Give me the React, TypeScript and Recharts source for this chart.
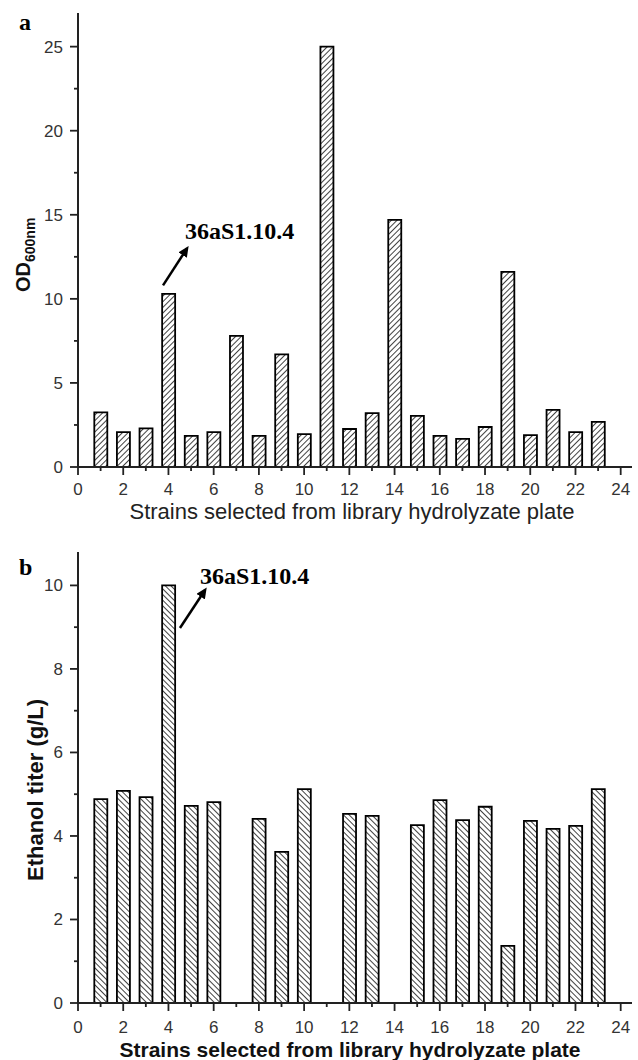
import React from 'react';
import { BarChart, Bar, XAxis, YAxis, ReferenceLine } from 'recharts';

// strain numbers on the x axis
const strains = [1, 2, 3, 4, 5, 6, 7, 8, 9, 10, 11, 12, 13, 14, 15, 16, 17, 18, 19, 20, 21, 22, 23];
// panel a: OD600nm
const odValues = [3.25, 2.08, 2.3, 10.3, 1.85, 2.08, 7.8, 1.85, 6.7, 1.96, 25.0, 2.26, 3.2, 14.7, 3.04, 1.85, 1.67, 2.38, 11.6, 1.9, 3.4, 2.08, 2.68];
// panel b: ethanol titer (g/L), no bar for 7, 11, 14
const ethanolValues = [4.88, 5.08, 4.93, 10.0, 4.72, 4.81, null, 4.41, 3.62, 5.12, null, 4.53, 4.48, null, 4.26, 4.86, 4.38, 4.7, 1.37, 4.36, 4.17, 4.24, 5.12];

const xTicks = [0, 1, 2, 3, 4, 5, 6, 7, 8, 9, 10, 11, 12, 13, 14, 15, 16, 17, 18, 19, 20, 21, 22, 23, 24];
const odTicks = [0, 2.5, 5, 7.5, 10, 12.5, 15, 17.5, 20, 22.5, 25];
const ethanolTicks = [0, 1, 2, 3, 4, 5, 6, 7, 8, 9, 10];

const xTitle = 'Strains selected from library hydrolyzate plate';
const strainName = '36aS1.10.4';

const odData = strains.map((s, i) => ({ strain: s, value: odValues[i] }));
const ethanolData = strains.map((s, i) => ({ strain: s, value: ethanolValues[i] }));

const sans = '"Liberation Sans", Arial, sans-serif';
const serif = '"Liberation Serif", "Times New Roman", serif';
const axisColor = '#222';

const makeXTick = (labelDy: number) => (props: any) => {
  const { x, y, payload } = props;
  const major = payload.value % 2 === 0;
  return (
    <g>
      <line x1={x} x2={x} y1={y} y2={y + (major ? 8 : 4)} stroke={axisColor} strokeWidth={1.8} />
      {major && (
        <text x={x} y={y + labelDy} textAnchor="middle" fontFamily={sans} fontSize={17} fill="#333">
          {payload.value}
        </text>
      )}
    </g>
  );
};

const makeYTick = (isMajor: (v: number) => boolean) => (props: any) => {
  const { x, y, payload } = props;
  const major = isMajor(payload.value);
  return (
    <g>
      <line x1={x - (major ? 8 : 4)} x2={x} y1={y} y2={y} stroke={axisColor} strokeWidth={1.8} />
      {major && (
        <text x={x - 15} y={y} dy="0.35em" textAnchor="end" fontFamily={sans} fontSize={17} fill="#333">
          {payload.value}
        </text>
      )}
    </g>
  );
};

const arrowShape = (props: any) => (
  <line x1={props.x1} y1={props.y1} x2={props.x2} y2={props.y2} stroke="#000" strokeWidth={2.5} markerEnd="url(#arrowHead)" />
);

export default function App() {
  return (
    <div style={{ position: 'absolute', left: 0, top: 0, width: 638, height: 1060, background: '#fff' }}>
      <div style={{ position: 'absolute', left: 0, top: 0 }}>
        <BarChart width={638} height={507} data={odData} margin={{ top: 13, right: 6, left: 0, bottom: 0 }}>
          <XAxis
            type="number"
            dataKey="strain"
            domain={[0, 24.5]}
            ticks={xTicks}
            interval={0}
            height={40}
            tickSize={0}
            tickMargin={0}
            tickLine={false}
            axisLine={{ stroke: axisColor, strokeWidth: 2 }}
            tick={makeXTick(28)}
          />
          <YAxis
            type="number"
            domain={[0, 27]}
            ticks={odTicks}
            interval={0}
            width={78}
            tickSize={0}
            tickMargin={0}
            tickLine={false}
            axisLine={{ stroke: axisColor, strokeWidth: 2 }}
            tick={makeYTick((v) => v % 5 === 0)}
          />
          <Bar dataKey="value" barSize={13} fill="url(#hatchA)" stroke="#000" strokeWidth={1.8} isAnimationActive={false} />
          <ReferenceLine segment={[{ x: 3.76, y: 10.8 }, { x: 4.82, y: 13.0 }]} shape={arrowShape} />
        </BarChart>
      </div>

      <div style={{ position: 'absolute', left: 0, top: 540 }}>
        <BarChart width={638} height={503} data={ethanolData} margin={{ top: 12, right: 6, left: 0, bottom: 0 }}>
          <XAxis
            type="number"
            dataKey="strain"
            domain={[0, 24.5]}
            ticks={xTicks}
            interval={0}
            height={40}
            tickSize={0}
            tickMargin={0}
            tickLine={false}
            axisLine={{ stroke: axisColor, strokeWidth: 2 }}
            tick={makeXTick(30)}
          />
          <YAxis
            type="number"
            domain={[0, 10.8]}
            ticks={ethanolTicks}
            interval={0}
            width={78}
            tickSize={0}
            tickMargin={0}
            tickLine={false}
            axisLine={{ stroke: axisColor, strokeWidth: 2 }}
            tick={makeYTick((v) => v % 2 === 0)}
          />
          <Bar dataKey="value" barSize={13} fill="url(#hatchB)" stroke="#000" strokeWidth={1.8} isAnimationActive={false} />
          <ReferenceLine segment={[{ x: 4.51, y: 8.98 }, { x: 5.62, y: 9.89 }]} shape={arrowShape} />
        </BarChart>
      </div>

      <svg width={638} height={1060} style={{ position: 'absolute', left: 0, top: 0, pointerEvents: 'none' }}>
        <defs>
          <pattern id="hatchA" patternUnits="userSpaceOnUse" width={4} height={4} patternTransform="rotate(45)">
            <rect width={4} height={4} fill="#fff" />
            <line x1={0} y1={0} x2={0} y2={4} stroke="#111" strokeWidth={1.6} />
          </pattern>
          <pattern id="hatchB" patternUnits="userSpaceOnUse" width={4} height={4} patternTransform="rotate(-45)">
            <rect width={4} height={4} fill="#fff" />
            <line x1={0} y1={0} x2={0} y2={4} stroke="#111" strokeWidth={1.6} />
          </pattern>
          <marker id="arrowHead" markerWidth={11} markerHeight={10} refX={8} refY={5} orient="auto" markerUnits="userSpaceOnUse">
            <path d="M0,0 L11,5 L0,10 z" fill="#000" />
          </marker>
        </defs>

        <text x={19} y={30} fontFamily={serif} fontWeight="bold" fontSize={24} fill="#000">a</text>
        <text x={19} y={575} fontFamily={serif} fontWeight="bold" fontSize={24} fill="#000">b</text>

        <text x={185} y={239} fontFamily={serif} fontWeight="bold" fontSize={24} fill="#000">{strainName}</text>
        <text x={200} y={584} fontFamily={serif} fontWeight="bold" fontSize={24} fill="#000">{strainName}</text>

        <text x={352} y={519} textAnchor="middle" fontFamily={sans} fontSize={22} fill="#222">{xTitle}</text>
        <text x={350} y={1057} textAnchor="middle" fontFamily={sans} fontWeight="bold" fontSize={21} fill="#111">{xTitle}</text>

        <text transform="translate(30,292) rotate(-90)" fontFamily={sans} fontWeight="bold" fontSize={20} fill="#111">
          OD<tspan fontSize={14} dy={5}>600nm</tspan>
        </text>
        <text transform="translate(43,790) rotate(-90)" textAnchor="middle" fontFamily={sans} fontWeight="bold" fontSize={22} fill="#111">
          Ethanol titer (g/L)
        </text>
      </svg>
    </div>
  );
}
